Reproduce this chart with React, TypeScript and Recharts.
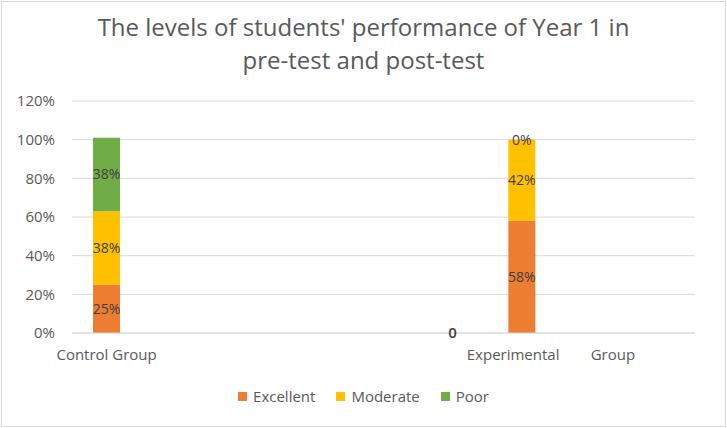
import { BarChart, Bar, XAxis, YAxis, CartesianGrid, Legend, LabelList } from 'recharts';

// nine slots on the category axis, only two of them hold bars
const categories = ['Control Group', '', '', '', '', '', 'Experimental        Group', '', ''];
const excellent = [25, null, null, null, null, 0, 58, null, null];
const moderate = [38, null, null, null, null, null, 42, null, null];
const poor = [38, null, null, null, null, null, 0, null, null];
const yTicks = [0, 20, 40, 60, 80, 100, 120];

const seriesNames = ['Excellent', 'Moderate', 'Poor'];
const seriesColors = ['#ED7D31', '#FFC000', '#70AD47'];

const data = categories.map((name, i) => ({
  name,
  Excellent: excellent[i],
  Moderate: moderate[i],
  Poor: poor[i],
}));

const font = '"Open Sans", "Noto Sans", sans-serif';
const grey = '#595959';

function XTick(props: any) {
  const { x, y, payload } = props;
  const label: string = payload.value;
  const wide = label.includes('  ');
  return (
    <text
      x={x}
      y={y}
      dx={wide ? 29 : 0}
      dy={19}
      textAnchor="middle"
      fill={grey}
      fontSize={15}
      fontFamily={font}
      style={{ whiteSpace: 'pre' }}
    >
      {label}
    </text>
  );
}

function barLabel(props: any, plain = false) {
  const { x, y, width, height, value } = props;
  if (value === null || value === undefined) return null;
  return (
    <text
      x={x + width / 2}
      y={y + height / 2}
      dy={5}
      textAnchor="middle"
      fill="#404040"
      fontSize={plain ? 15 : 14}
      fontWeight={plain ? 600 : 400}
      fontFamily={font}
    >
      {plain ? `${value}` : `${value}%`}
    </text>
  );
}

function LegendContent() {
  return (
    <div style={{ display: 'flex', justifyContent: 'center', fontFamily: font, fontSize: 15, color: grey }}>
      {seriesNames.map((n, i) => (
        <div key={n} style={{ display: 'flex', alignItems: 'center', marginRight: i < seriesNames.length - 1 ? 21 : 0 }}>
          <span style={{ width: 9, height: 9, background: seriesColors[i], marginRight: 6, display: 'inline-block' }} />
          <span>{n}</span>
        </div>
      ))}
    </div>
  );
}

export default function App() {
  return (
    <div
      style={{
        position: 'absolute',
        left: 0,
        top: 0,
        width: 727,
        height: 428,
        background: '#fff',
      }}
    >
      <div
        style={{
          position: 'absolute',
          left: 1,
          top: 1,
          width: 723,
          height: 424,
          border: '1px solid #d9d9d9',
        }}
      />
      <div
        style={{
          position: 'absolute',
          left: 0,
          top: 10,
          width: 727,
          textAlign: 'center',
          fontFamily: font,
          fontSize: 24,
          lineHeight: '33px',
          color: grey,
        }}
      >
        The levels of students' performance of Year 1 in
        <br />
        pre-test and post-test
      </div>
      <div style={{ position: 'absolute', left: 0, top: 0 }}>
        <BarChart
          width={727}
          height={428}
          data={data}
          margin={{ top: 101, right: 32, bottom: 65, left: 0 }}
          barSize={27}
        >
          <CartesianGrid vertical={false} stroke="#d9d9d9" />
          <XAxis
            dataKey="name"
            axisLine={{ stroke: '#d9d9d9' }}
            tickLine={false}
            tick={<XTick />}
            interval={0}
            height={30}
          />
          <YAxis
            domain={[0, 120]}
            ticks={yTicks}
            tickFormatter={(v: number) => `${v}%`}
            axisLine={false}
            tickLine={false}
            tickMargin={11}
            width={72}
            tick={{ fill: grey, fontSize: 15, fontFamily: font }}
          />
          <Legend
            verticalAlign="middle"
            content={<LegendContent />}
            wrapperStyle={{ top: 386, left: 0, width: 727 }}
          />
          {/* zero-valued segments keep a hair of height so their labels still render */}
          <Bar dataKey="Excellent" stackId="a" fill={seriesColors[0]} minPointSize={0.01} isAnimationActive={false}>
            <LabelList dataKey="Excellent" content={(p: any) => barLabel(p, p.index === 5)} />
          </Bar>
          <Bar dataKey="Moderate" stackId="a" fill={seriesColors[1]} minPointSize={0.01} isAnimationActive={false}>
            <LabelList dataKey="Moderate" content={(p: any) => barLabel(p)} />
          </Bar>
          <Bar dataKey="Poor" stackId="a" fill={seriesColors[2]} minPointSize={0.01} isAnimationActive={false}>
            <LabelList dataKey="Poor" content={(p: any) => barLabel(p)} />
          </Bar>
        </BarChart>
      </div>
    </div>
  );
}
